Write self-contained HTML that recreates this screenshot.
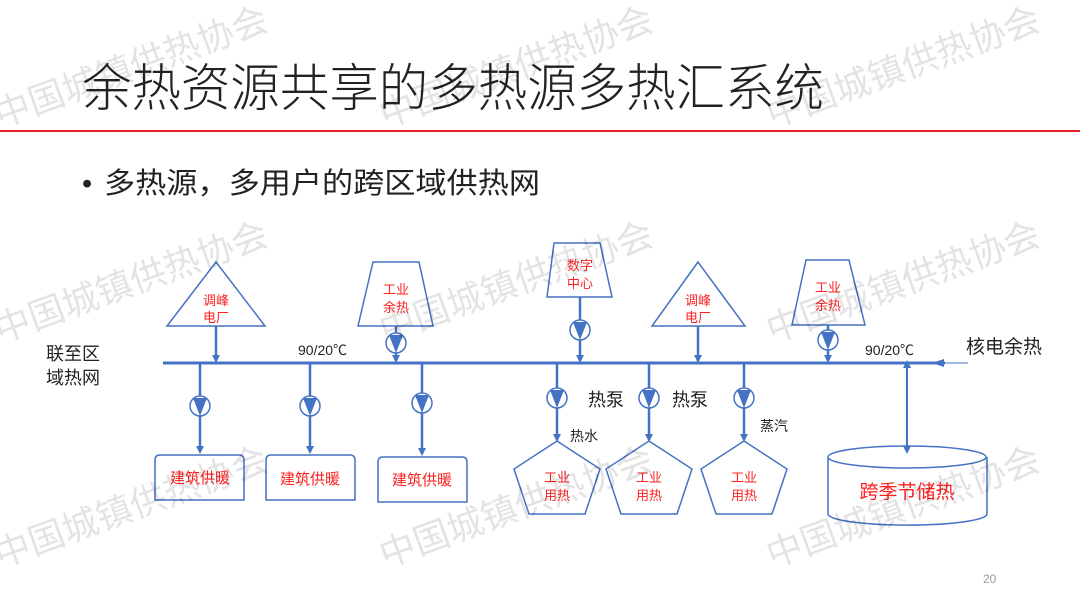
<!DOCTYPE html>
<html><head><meta charset="utf-8"><style>
body{margin:0;width:1080px;height:608px;background:#fff;overflow:hidden}
svg{display:block}
text{font-family:"Liberation Sans","Noto Sans CJK SC",sans-serif}
</style></head><body>
<svg width="1080" height="608" viewBox="0 0 1080 608" xmlns="http://www.w3.org/2000/svg">
<defs>
<marker id="a" markerWidth="8" markerHeight="8" refX="6" refY="4" orient="auto" markerUnits="userSpaceOnUse"><path d="M0,0 L8,4 L0,8 Z" fill="#4472c4"/></marker>
<marker id="b" markerWidth="8" markerHeight="8" refX="2" refY="4" orient="auto-start-reverse" markerUnits="userSpaceOnUse"><path d="M0,0 L8,4 L0,8 Z" fill="#4472c4"/></marker>
</defs>
<text x="82" y="106" font-size="51" fill="#222" font-weight="300" textLength="742" lengthAdjust="spacingAndGlyphs">余热资源共享的多热源多热汇系统</text>
<rect x="0" y="130" width="1080" height="2" fill="#e3212a"/>
<text x="82" y="193" font-size="29" fill="#222">•</text>
<text x="104" y="193" font-size="29" fill="#222" textLength="436" lengthAdjust="spacingAndGlyphs">多热源，多用户的跨区域供热网</text>

<g stroke="#4472c4" fill="none" stroke-width="1.5">
<line x1="163" y1="363" x2="945" y2="363" stroke-width="3"/>
<line x1="945" y1="363" x2="968" y2="363" stroke-width="1"/>
<path d="M216,262 L167,326 L265,326 Z"/>
<path d="M373,262 L419,262 L433,326 L358,326 Z"/>
<path d="M554,243 L600,243 L612,297 L547,297 Z"/>
<path d="M698,262 L652,326 L745,326 Z"/>
<path d="M806,260 L849,260 L865,325 L792,325 Z"/>
<path d="M155,500 V460 Q155,455 160,455 H239 Q244,455 244,460 V500 Z"/>
<path d="M266,500 V460 Q266,455 271,455 H350 Q355,455 355,460 V500 Z"/>
<path d="M378,502 V462 Q378,457 383,457 H462 Q467,457 467,462 V502 Z"/>
<path d="M557,441 L600,469 L585,514 L529,514 L514,469 Z"/>
<path d="M649,441 L692,469 L677,514 L621,514 L606,469 Z"/>
<path d="M744,441 L787,469 L772,514 L716,514 L701,469 Z"/>
<path d="M828,457 V514 A79,11 0 0 0 987,514 V457"/>
<ellipse cx="907" cy="457" rx="79" ry="11"/>
</g>
<g stroke="#4472c4" stroke-width="2.5" fill="none">
<line x1="216" y1="326" x2="216" y2="361" marker-end="url(#a)"/>
<line x1="396" y1="326" x2="396" y2="361" marker-end="url(#a)"/>
<line x1="580" y1="297" x2="580" y2="361" marker-end="url(#a)"/>
<line x1="698" y1="326" x2="698" y2="361" marker-end="url(#a)"/>
<line x1="828" y1="325" x2="828" y2="361" marker-end="url(#a)"/>
<line x1="200" y1="363" x2="200" y2="452" marker-end="url(#a)"/>
<line x1="310" y1="363" x2="310" y2="452" marker-end="url(#a)"/>
<line x1="422" y1="363" x2="422" y2="454" marker-end="url(#a)"/>
<line x1="557" y1="363" x2="557" y2="440" marker-end="url(#a)"/>
<line x1="649" y1="363" x2="649" y2="440" marker-end="url(#a)"/>
<line x1="744" y1="363" x2="744" y2="440" marker-end="url(#a)"/>
<line x1="907" y1="366" x2="907" y2="452" marker-start="url(#b)" marker-end="url(#a)" stroke-width="2"/>
</g>
<path d="M932,363 L944,359 L944,367 Z" fill="#4472c4"/>
<g stroke="#4472c4" stroke-width="1.5" fill="#fff">
<circle cx="200" cy="406" r="10"/><circle cx="310" cy="406" r="10"/><circle cx="422" cy="403" r="10"/>
<circle cx="396" cy="343" r="10"/><circle cx="580" cy="330" r="10"/><circle cx="828" cy="340" r="10"/>
<circle cx="557" cy="398" r="10"/><circle cx="649" cy="398" r="10"/><circle cx="744" cy="398" r="10"/>
</g>
<g fill="#4472c4">
<path d="M193,398 H207 L200,416 Z"/><path d="M303,398 H317 L310,416 Z"/><path d="M415,395 H429 L422,413 Z"/>
<path d="M389,335 H403 L396,353 Z"/><path d="M573,322 H587 L580,340 Z"/><path d="M821,332 H835 L828,350 Z"/>
<path d="M550,390 H564 L557,408 Z"/><path d="M642,390 H656 L649,408 Z"/><path d="M737,390 H751 L744,408 Z"/>
</g>

<g font-size="13" fill="#ff2020" text-anchor="middle">
<text x="216" y="305">调峰</text><text x="216" y="322">电厂</text>
<text x="698" y="305">调峰</text><text x="698" y="322">电厂</text>
<text x="396" y="294">工业</text><text x="396" y="312">余热</text>
<text x="828" y="292">工业</text><text x="828" y="310">余热</text>
<text x="580" y="270">数字</text><text x="580" y="288">中心</text>
<text x="557" y="482">工业</text><text x="557" y="500">用热</text>
<text x="649" y="482">工业</text><text x="649" y="500">用热</text>
<text x="744" y="482">工业</text><text x="744" y="500">用热</text>
</g>
<g font-size="15" fill="#ff2020" text-anchor="middle">
<text x="200" y="483">建筑供暖</text><text x="310" y="484">建筑供暖</text><text x="422" y="485">建筑供暖</text>
</g>
<text x="907" y="498" font-size="19" fill="#ff2020" text-anchor="middle">跨季节储热</text>
<g fill="#222">
<text x="298" y="355" font-size="14">90/20℃</text>
<text x="865" y="355" font-size="14">90/20℃</text>
<text x="966" y="353" font-size="19">核电余热</text>
<text x="46" y="360" font-size="18">联至区</text>
<text x="46" y="384" font-size="18">域热网</text>
<text x="588" y="406" font-size="18">热泵</text>
<text x="672" y="406" font-size="18">热泵</text>
<text x="570" y="441" font-size="14">热水</text>
<text x="760" y="431" font-size="14">蒸汽</text>
</g>
<text x="983" y="583" font-size="12" fill="#999">20</text>

<g font-size="36" fill="#000" fill-opacity="0.11">
<text transform="translate(0,128) rotate(-20)">中国城镇供热协会</text>
<text transform="translate(385,128) rotate(-20)">中国城镇供热协会</text>
<text transform="translate(772,128) rotate(-20)">中国城镇供热协会</text>
<text transform="translate(0,343) rotate(-20)">中国城镇供热协会</text>
<text transform="translate(385,343) rotate(-20)">中国城镇供热协会</text>
<text transform="translate(772,343) rotate(-20)">中国城镇供热协会</text>
<text transform="translate(0,568) rotate(-20)">中国城镇供热协会</text>
<text transform="translate(385,568) rotate(-20)">中国城镇供热协会</text>
<text transform="translate(772,568) rotate(-20)">中国城镇供热协会</text>
</g>
</svg>
</body></html>
